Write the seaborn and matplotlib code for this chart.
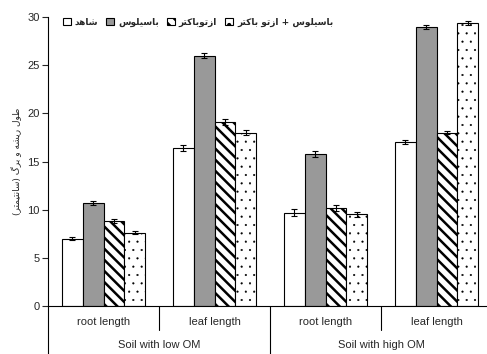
import matplotlib
matplotlib.use("Agg")
import matplotlib.pyplot as plt
import seaborn as sns
import pandas as pd

# ---- data ----
soils = ["Soil with low OM", "Soil with high OM"]
parts = ["root length", "leaf length"]
treatments = ["شاهد", "باسیلوس", "ازتوباکتر", "باسیلوس + ازتو باکتر"]

control = [7.0, 16.4, 9.7, 17.0]
bacillus = [10.7, 26.0, 15.8, 29.0]
azoto = [8.8, 19.1, 10.2, 18.0]
combined = [7.6, 18.0, 9.5, 29.4]

control_se = [0.2, 0.3, 0.35, 0.2]
bacillus_se = [0.2, 0.3, 0.3, 0.2]
azoto_se = [0.2, 0.3, 0.3, 0.15]
combined_se = [0.15, 0.25, 0.3, 0.2]

ylabel_text = "طول ریشه و برگ (سانتیمتر)"

# ---- minimal Arabic-script shaping (matplotlib has no text shaper) ----
FORMS = {
    "ا": ("\uFE8D", "\uFE8E", None, None),
    "ب": ("\uFE8F", "\uFE90", "\uFE91", "\uFE92"),
    "ت": ("\uFE95", "\uFE96", "\uFE97", "\uFE98"),
    "د": ("\uFEA9", "\uFEAA", None, None),
    "ر": ("\uFEAD", "\uFEAE", None, None),
    "ز": ("\uFEAF", "\uFEB0", None, None),
    "س": ("\uFEB1", "\uFEB2", "\uFEB3", "\uFEB4"),
    "ش": ("\uFEB5", "\uFEB6", "\uFEB7", "\uFEB8"),
    "ط": ("\uFEC1", "\uFEC2", "\uFEC3", "\uFEC4"),
    "ل": ("\uFEDD", "\uFEDE", "\uFEDF", "\uFEE0"),
    "م": ("\uFEE1", "\uFEE2", "\uFEE3", "\uFEE4"),
    "ن": ("\uFEE5", "\uFEE6", "\uFEE7", "\uFEE8"),
    "ه": ("\uFEE9", "\uFEEA", "\uFEEB", "\uFEEC"),
    "و": ("\uFEED", "\uFEEE", None, None),
    "ک": ("\uFB8E", "\uFB8F", "\uFB90", "\uFB91"),
    "گ": ("\uFB92", "\uFB93", "\uFB94", "\uFB95"),
    "ی": ("\uFBFC", "\uFBFD", "\uFBFE", "\uFBFF"),
}


def shape(text):
    out = []
    n = len(text)
    for i, ch in enumerate(text):
        f = FORMS.get(ch)
        if f is None:
            out.append(ch)
            continue
        prev = text[i - 1] if i > 0 else ""
        nxt = text[i + 1] if i + 1 < n else ""
        join_prev = prev in FORMS and FORMS[prev][2] is not None
        join_next = f[2] is not None and nxt in FORMS
        if join_prev and join_next:
            out.append(f[3])
        elif join_prev:
            out.append(f[1])
        elif join_next:
            out.append(f[2])
        else:
            out.append(f[0])
    visual = "".join(reversed(out))
    return visual.translate(str.maketrans("()", ")("))


# ---- tidy table ----
groups = [f"{s}|{p}" for s in soils for p in parts]
series = [control, bacillus, azoto, combined]
errors = [control_se, bacillus_se, azoto_se, combined_se]
rows = []
for t, vals in zip(treatments, series):
    for g, v in zip(groups, vals):
        rows.append({"group": g, "treatment": t, "value": v})
df = pd.DataFrame(rows)

sns.set_theme(style="ticks")
plt.rcParams["font.family"] = ["Liberation Sans", "DejaVu Sans"]
plt.rcParams["hatch.linewidth"] = 1.8

W, H = 487, 354
fig = plt.figure(figsize=(W / 100, H / 100), dpi=100)
ax = fig.add_axes([48 / W, (H - 306) / H, (W - 48) / W, (306 - 17) / H])

palette = ["white", "#999999", "white", "white"]
sns.barplot(data=df, x="group", y="value", hue="treatment", order=groups,
            hue_order=treatments, palette=palette, edgecolor="black",
            linewidth=0.8, width=0.75, gap=0, errorbar=None, legend=False,
            saturation=1, ax=ax)

bar_containers = list(ax.containers)
hatches = [None, None, "\\\\\\", ".."]
hatch_lw = [None, None, 1.8, 0.3]
for cont, hatch, hlw, vals, errs in zip(bar_containers, hatches, hatch_lw,
                                        series, errors):
    xs = []
    for p in cont.patches:
        if hatch:
            p.set_hatch(hatch)
            if hasattr(p, "set_hatch_linewidth"):
                p.set_hatch_linewidth(hlw)
        xs.append(p.get_x() + p.get_width() / 2)
    ax.errorbar(xs, vals, yerr=errs, fmt="none", ecolor="black",
                elinewidth=0.8, capsize=2.5, capthick=0.8)

ax.set_ylim(0, 30)
ax.set_xlim(-0.5, -0.5 + (W - 48) / 111)
ax.set_yticks(range(0, 31, 5))
ax.tick_params(axis="y", direction="out", length=4, width=0.8, labelsize=8,
               pad=2)
ax.set_xticks([])
ax.set_xlabel("")
ax.set_ylabel(shape(ylabel_text), fontsize=6.5, family=["DejaVu Sans"],
              labelpad=4)
sns.despine(ax=ax, top=True, right=True)
for s in ("left", "bottom"):
    ax.spines[s].set_linewidth(0.8)
    ax.spines[s].set_color("black")

# two-level category table under the axis
axh = 306 - 17
row1 = -24 / axh
row2 = -48 / axh
trans = ax.get_xaxis_transform()
ax.plot([-0.5, -0.5], [0, row2], color="black", lw=0.8, transform=trans,
        clip_on=False)
for xd in (0.5, 2.5):
    ax.plot([xd, xd], [0, row1], color="black", lw=0.8, transform=trans,
            clip_on=False)
ax.plot([1.5, 1.5], [0, row2], color="black", lw=0.8, transform=trans,
        clip_on=False)
for i, g in enumerate(groups):
    ax.text(i, -16 / axh, g.split("|")[1], transform=trans, ha="center",
            va="center", fontsize=8)
for i, s in enumerate(soils):
    ax.text(2 * i + 0.5, -39 / axh, s, transform=trans, ha="center",
            va="center", fontsize=8)

handles = [c.patches[0] for c in bar_containers]
leg = ax.legend(handles, [shape(t) for t in treatments], ncol=4,
                loc="center left", bbox_to_anchor=(63 / W, (H - 22) / H),
                bbox_transform=fig.transFigure, frameon=False,
                prop={"family": ["DejaVu Sans"], "size": 6.5, "weight": "bold"},
                handlelength=0.9, handleheight=0.9, handletextpad=0.4,
                columnspacing=0.9, borderaxespad=0, borderpad=0)

fig.savefig("out.png", dpi=100)
